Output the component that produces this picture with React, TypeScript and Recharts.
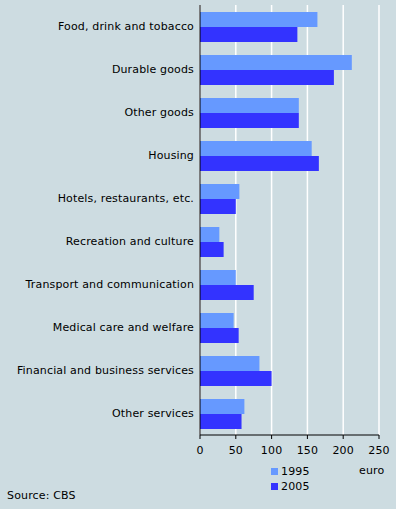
import React from "react";
import {
  BarChart,
  Bar,
  XAxis,
  YAxis,
  CartesianGrid,
} from "recharts";

const categories = [
  "Food, drink and tobacco",
  "Durable goods",
  "Other goods",
  "Housing",
  "Hotels, restaurants, etc.",
  "Recreation and culture",
  "Transport and communication",
  "Medical care and welfare",
  "Financial and business services",
  "Other services",
];
const values1995 = [164, 212, 138, 156, 55, 27, 50, 47, 83, 62];
const values2005 = [136, 187, 138, 166, 50, 33, 75, 54, 100, 58];
const seriesNames = ["1995", "2005"];
const xTicks = [0, 50, 100, 150, 200, 250];

const COLORS = ["#6699ff", "#3333ff"];
const BG = "#cddce1";
const FONT = "'DejaVu Sans', Verdana, sans-serif";

const data = categories.map((name, i) => ({
  name,
  v1995: values1995[i],
  v2005: values2005[i],
}));

const tickStyle = { fontSize: 11, fill: "#000", fontFamily: FONT, letterSpacing: 0.15 };

// single-line category label (recharts would wrap the long one)
const CategoryTick = ({ x, y, payload }: any) => (
  <text
    x={x}
    y={y}
    textAnchor="end"
    dominantBaseline="central"
    fontSize={11}
    fontFamily={FONT}
    letterSpacing={0.15}
    fill="#000"
  >
    {payload.value}
  </text>
);

export default function App() {
  return (
    <div
      style={{
        position: "fixed",
        left: 0,
        top: 0,
        width: 396,
        height: 509,
        background: BG,
        fontFamily: FONT,
        fontSize: 11,
        letterSpacing: 0.15,
        color: "#000",
      }}
    >
      <BarChart
        width={396}
        height={509}
        data={data}
        layout="vertical"
        margin={{ top: 5, right: 17, bottom: 44, left: 0 }}
        barGap={0}
        barSize={15}
      >
        <CartesianGrid horizontal={false} stroke="#ffffff" strokeWidth={1.5} />
        <XAxis
          type="number"
          domain={[0, 250]}
          ticks={xTicks}
          height={30}
          axisLine={{ stroke: "#000" }}
          tickLine={{ stroke: "#000" }}
          tickSize={4}
          tickMargin={7}
          tick={tickStyle}
        />
        <XAxis
          xAxisId="top"
          orientation="top"
          type="number"
          domain={[0, 250]}
          height={0}
          tick={false}
          tickLine={false}
          axisLine={{ stroke: "#808080", strokeWidth: 1.5 }}
        />
        <YAxis
          type="category"
          dataKey="name"
          width={200}
          axisLine={{ stroke: "#000" }}
          tickLine={false}
          tickSize={4}
          tickMargin={2}
          interval={0}
          tick={<CategoryTick />}
        />
        <YAxis
          yAxisId="right"
          orientation="right"
          type="category"
          dataKey="name"
          width={0}
          tick={false}
          tickLine={false}
          axisLine={{ stroke: "#808080", strokeWidth: 1.5 }}
        />
        <Bar dataKey="v1995" name={seriesNames[0]} fill={COLORS[0]} isAnimationActive={false} />
        <Bar dataKey="v2005" name={seriesNames[1]} fill={COLORS[1]} isAnimationActive={false} />
      </BarChart>
      {seriesNames.map((s, i) => (
        <div
          key={s}
          style={{
            position: "absolute",
            left: 271,
            top: 464 + i * 15,
            display: "flex",
            alignItems: "center",
            height: 14,
          }}
        >
          <span
            style={{
              display: "inline-block",
              width: 7,
              height: 7,
              background: COLORS[i],
              marginRight: 3,
            }}
          />
          <span>{s}</span>
        </div>
      ))}
      <div style={{ position: "absolute", left: 359, top: 464, height: 14, lineHeight: "14px" }}>
        euro
      </div>
      <div style={{ position: "absolute", left: 7, top: 489, height: 14, lineHeight: "14px" }}>
        Source: CBS
      </div>
    </div>
  );
}
